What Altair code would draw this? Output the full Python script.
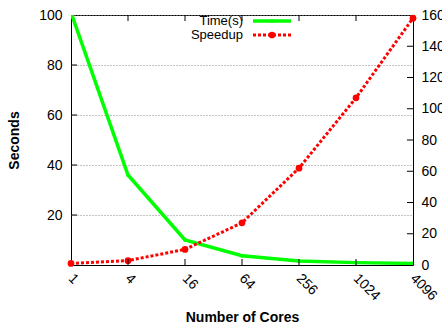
import altair as alt
import pandas as pd

cores = [1, 4, 16, 64, 256, 1024, 4096]
time_s = [101, 36, 10, 3.7, 1.6, 0.95, 0.64]
speedup = [1, 2.8, 10, 27, 62, 107, 158]
left_ticks = [20, 40, 60, 80, 100]
right_ticks = [0, 20, 40, 60, 80, 100, 120, 140, 160]
series = ["Time(s)", "Speedup"]

W, H = 342, 250
FONT = "Liberation Sans"
FS = 14

df = pd.DataFrame({"cores": cores, "time": time_s, "speedup": speedup})
xs = alt.Scale(type="log", base=2, domain=[1, 4096])
ys_left = alt.Scale(domain=[0, 100], nice=False, zero=True)
ys_right = alt.Scale(domain=[0, 160], nice=False, zero=True)

x_axis = alt.Axis(values=cores, format="d", labelAngle=45, labelAlign="left", labelBaseline="top",
                  tickSize=0, domain=False, grid=False, labelPadding=6, labelOffset=4,
                  labelFontSize=FS,
                  labelFont=FONT, labelColor="black", labelOverlap=False, labelBound=False,
                  title="Number of Cores",
                  titleFont=FONT, titleFontSize=14, titleFontWeight="bold", titleColor="black",
                  titleY=52, titleBaseline="middle")
X = alt.X("cores:Q", scale=xs, axis=x_axis)

time_line = alt.Chart(df).mark_line(color="#00ff00", strokeWidth=3.5, clip=True,
                                    point=alt.OverlayMarkDef(filled=True, size=14, color="#00ff00")).encode(
    x=X,
    y=alt.Y("time:Q", scale=ys_left,
            axis=alt.Axis(values=left_ticks, tickSize=0, domain=False, grid=True,
                          gridDash=[1, 2], gridColor="#888888", gridWidth=1,
                          labelPadding=9, labelFontSize=FS, labelFont=FONT, labelColor="black",
                          title="Seconds", titleFont=FONT, titleFontSize=14,
                          titleFontWeight="bold", titleColor="black",
                          titleX=-57, titleBaseline="middle", titleAngle=270)),
)

speed_line = alt.Chart(df).mark_line(color="#ff0000", strokeWidth=3, strokeDash=[3, 2],
                                     point=alt.OverlayMarkDef(filled=True, size=45, color="#ff0000")).encode(
    x=X,
    y=alt.Y("speedup:Q", scale=ys_right,
            axis=alt.Axis(orient="right", values=right_ticks, tickSize=0, domain=False,
                          grid=False, labelPadding=8, labelFontSize=FS, labelFont=FONT,
                          labelColor="black", labelOverlap=False, title=None)),
)

inner = pd.DataFrame({"cores": cores[1:-1]})
bottom_ticks = alt.Chart(inner).mark_rule(color="black").encode(
    x=X, y=alt.value(H), y2=alt.value(H - 6))
top_ticks = alt.Chart(inner).mark_rule(color="black").encode(
    x=X, y=alt.value(0), y2=alt.value(6))

lt = pd.DataFrame({"v": left_ticks[:-1]})
left_tk = alt.Chart(lt).mark_rule(color="black").encode(
    y=alt.Y("v:Q", scale=ys_left, axis=None), x=alt.value(0), x2=alt.value(6))
rt = pd.DataFrame({"v": right_ticks[1:-1]})
right_tk = alt.Chart(rt).mark_rule(color="black").encode(
    y=alt.Y("v:Q", scale=ys_right, axis=None), x=alt.value(W), x2=alt.value(W - 6))

LFS = 13
leg = pd.DataFrame({"name": series})
leg_text_t = alt.Chart(leg.iloc[[0]]).mark_text(align="right", baseline="middle", font=FONT,
                                                fontSize=LFS, color="black").encode(
    text="name:N", x=alt.value(172), y=alt.value(6))
leg_text_s = alt.Chart(leg.iloc[[1]]).mark_text(align="right", baseline="middle", font=FONT,
                                                fontSize=LFS, color="black").encode(
    text="name:N", x=alt.value(172), y=alt.value(20))
leg_line_t = alt.Chart(leg.iloc[[0]]).mark_rule(color="#00ff00", strokeWidth=3.5).encode(
    x=alt.value(182), x2=alt.value(220), y=alt.value(6))
leg_line_s = alt.Chart(leg.iloc[[1]]).mark_rule(color="#ff0000", strokeWidth=3, strokeDash=[3, 2]).encode(
    x=alt.value(182), x2=alt.value(220), y=alt.value(20))
leg_pt_s = alt.Chart(leg.iloc[[1]]).mark_point(color="#ff0000", filled=True, size=45, opacity=1).encode(
    x=alt.value(201), y=alt.value(20))
leg_pt_t = alt.Chart(leg.iloc[[0]]).mark_point(color="#00ff00", filled=True, size=14, opacity=1).encode(
    x=alt.value(201), y=alt.value(6))

chart = alt.layer(
    time_line, speed_line, bottom_ticks, top_ticks, left_tk, right_tk,
    leg_line_t, leg_pt_t, leg_line_s, leg_pt_s, leg_text_t, leg_text_s,
).resolve_scale(y="independent").properties(
    width=W, height=H,
    autosize=alt.AutoSizeParams(type="none"),
    padding={"left": 71, "top": 15, "right": 29, "bottom": 63},
    background="white",
).configure_view(stroke="black", strokeWidth=1)

chart.save("out.html", embed_options={"renderer": "svg", "actions": False})
